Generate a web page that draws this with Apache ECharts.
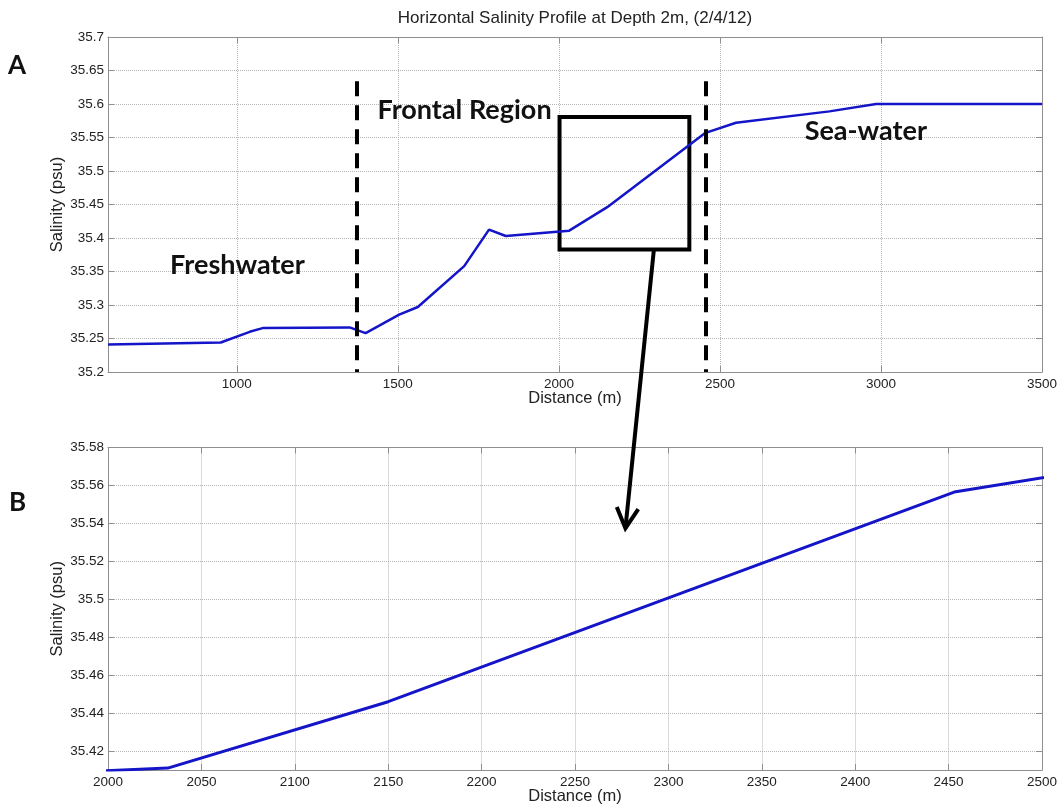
<!DOCTYPE html>
<html>
<head>
<meta charset="utf-8">
<script src="https://cdn.jsdelivr.net/npm/echarts@6/dist/echarts.min.js"></script>
<style>html,body{margin:0;padding:0;background:#fff;}#c{width:1062px;height:807px;}</style>
</head>
<body>
<div id="c"></div>
<script>
// ---- data ----
var distance = [600, 950, 1040, 1080, 1350, 1400, 1504, 1562, 1706, 1783, 1835, 2032, 2150, 2453, 2550, 2840, 2985, 3500];
var salinity = [35.241, 35.244, 35.260, 35.2655, 35.2665, 35.258, 35.2855, 35.297, 35.358, 35.4125, 35.403, 35.411, 35.446, 35.5565, 35.572, 35.589, 35.600, 35.600];
var topXTicks = [1000, 1500, 2000, 2500, 3000, 3500];
var bottomYTicks = [35.42, 35.44, 35.46, 35.48, 35.50, 35.52, 35.54, 35.56, 35.58];
var frontBounds = [1371, 2455];           // dashed lines
var zoomBox = [[2002, 35.5805], [2405, 35.383]];
var regionLabels = [
  {text: 'Freshwater', x: 1002, y: 35.360},
  {text: 'Frontal Region', x: 1707, y: 35.590},
  {text: 'Sea-water', x: 2953, y: 35.560}
];
var titleText = 'Horizontal Salinity Profile at Depth 2m, (2/4/12)';

var points = distance.map(function (d, i) { return [d, salinity[i]]; });

var FONT = 'Liberation Sans, Arial, sans-serif';
var axisColor = '#8f8f8f';
var gridLine = {show: true, lineStyle: {type: 'dotted', color: '#b5b5b5', width: 1}};
var tickIn = {show: true, inside: true, length: 6, lineStyle: {color: axisColor}};
var lineAx = {show: true, onZero: false, lineStyle: {color: axisColor, width: 1}};
var lbl = {color: '#222', fontFamily: FONT, fontSize: 13.5};
var plain = function (v) { return String(v); };

function xAx(grid, min, max, pos, main, extra) {
  var o = {
    type: 'value', gridIndex: grid, position: pos, min: min, max: max,
    axisLine: lineAx, axisTick: tickIn,
    axisLabel: main ? Object.assign({margin: 5, formatter: plain}, lbl) : {show: false},
    splitLine: main ? gridLine : {show: false}
  };
  if (main) {
    o.name = 'Distance (m)'; o.nameLocation = 'middle'; o.nameGap = 18; o.nameMoveOverlap = false;
    o.nameTextStyle = {color: '#222', fontFamily: FONT, fontSize: 16.5};
  }
  return Object.assign(o, extra || {});
}
function yAx(grid, min, max, pos, main, extra) {
  var o = {
    type: 'value', gridIndex: grid, position: pos, min: min, max: max,
    axisLine: lineAx, axisTick: tickIn,
    axisLabel: main ? Object.assign({margin: 4}, lbl) : {show: false},
    splitLine: main ? gridLine : {show: false}
  };
  if (main) {
    o.name = 'Salinity (psu)'; o.nameLocation = 'middle'; o.nameGap = 42; o.nameMoveOverlap = false;
    o.nameTextStyle = {color: '#222', fontFamily: FONT, fontSize: 16.5};
  }
  return Object.assign(o, extra || {});
}

function topXExtra(main) {
  var e = {axisTick: Object.assign({}, tickIn, {customValues: topXTicks})};
  if (main) e.axisLabel = Object.assign({margin: 5, customValues: topXTicks, formatter: plain}, lbl);
  return e;
}
function botYExtra(main) {
  var e = {axisTick: Object.assign({}, tickIn, {customValues: bottomYTicks})};
  if (main) e.axisLabel = Object.assign({margin: 4, customValues: bottomYTicks}, lbl);
  return e;
}

var chart = echarts.init(document.getElementById('c'), null, {renderer: 'canvas'});
var lineColor = '#1414c8';

chart.setOption({
  animation: false,
  backgroundColor: '#fff',
  grid: [
    {left: 108, right: 20, top: 37, height: 335},
    {left: 108, right: 20, top: 447.5, height: 322.5}
  ],
  xAxis: [
    xAx(0, 600, 3500, 'bottom', true, topXExtra(true)),
    xAx(0, 600, 3500, 'top', false, topXExtra(false)),
    xAx(1, 2000, 2500, 'bottom', true, {interval: 50}),
    xAx(1, 2000, 2500, 'top', false, {interval: 50})
  ],
  yAxis: [
    yAx(0, 35.2, 35.7, 'left', true, {interval: 0.05}),
    yAx(0, 35.2, 35.7, 'right', false, {interval: 0.05}),
    yAx(1, 35.41, 35.58, 'left', true, botYExtra(true)),
    yAx(1, 35.41, 35.58, 'right', false, botYExtra(false))
  ],
  series: [
    {
      type: 'line', xAxisIndex: 0, yAxisIndex: 0, data: points, symbol: 'none',
      lineStyle: {color: lineColor, width: 2.5}, z: 3,
      markLine: {
        silent: true, symbol: 'none', label: {show: false},
        lineStyle: {color: '#000', width: 4, type: [15, 9]},
        data: frontBounds.map(function (x) {
          return [{coord: [x, 35.634]}, {coord: [x, 35.2]}];
        })
      },
      markArea: {
        silent: true, label: {show: false},
        itemStyle: {color: 'rgba(0,0,0,0)', borderColor: '#000', borderWidth: 4},
        data: [[{coord: zoomBox[0]}, {coord: zoomBox[1]}]]
      }
    },
    {
      type: 'line', xAxisIndex: 2, yAxisIndex: 2, data: points, symbol: 'none',
      lineStyle: {color: lineColor, width: 3}, z: 3
    }
  ]
});

// annotations positioned from data coordinates
var g = [];
g.push({type: 'text', x: 575, y: 18, style: {text: titleText, fill: '#222', font: '17px ' + FONT, textAlign: 'center', textVerticalAlign: 'middle'}});
g.push({type: 'text', x: 8, y: 66, style: {text: 'A', fill: '#111', font: 'bold 26px Lato, sans-serif', textAlign: 'left', textVerticalAlign: 'middle'}});
g.push({type: 'text', x: 9, y: 503, style: {text: 'B', fill: '#111', font: 'bold 26px Lato, sans-serif', textAlign: 'left', textVerticalAlign: 'middle'}});
regionLabels.forEach(function (r) {
  var p = chart.convertToPixel({gridIndex: 0}, [r.x, r.y]);
  g.push({type: 'text', x: p[0], y: p[1], style: {text: r.text, fill: '#111', font: 'bold 27px Lato, sans-serif', textAlign: 'center', textVerticalAlign: 'middle'}});
});
var a0 = chart.convertToPixel({gridIndex: 0}, [2295, 35.383]);
var a1 = chart.convertToPixel({gridIndex: 1}, [2277, 35.5374]);
var dx = a1[0] - a0[0], dy = a1[1] - a0[1], L = Math.sqrt(dx * dx + dy * dy);
var ux = -dx / L, uy = -dy / L, th = 28 * Math.PI / 180, wl = 23;
function rot(x, y, t) { return [x * Math.cos(t) - y * Math.sin(t), x * Math.sin(t) + y * Math.cos(t)]; }
var w1 = rot(ux, uy, th), w2 = rot(ux, uy, -th);
g.push({type: 'line', shape: {x1: a0[0], y1: a0[1], x2: a1[0], y2: a1[1]}, style: {stroke: '#000', lineWidth: 4}, z: 10});
g.push({type: 'polyline', shape: {points: [[a1[0] + w1[0] * wl, a1[1] + w1[1] * wl], a1, [a1[0] + w2[0] * wl, a1[1] + w2[1] * wl]]}, style: {stroke: '#000', lineWidth: 4, fill: null}, z: 10});
chart.setOption({graphic: g});
</script>
</body>
</html>
